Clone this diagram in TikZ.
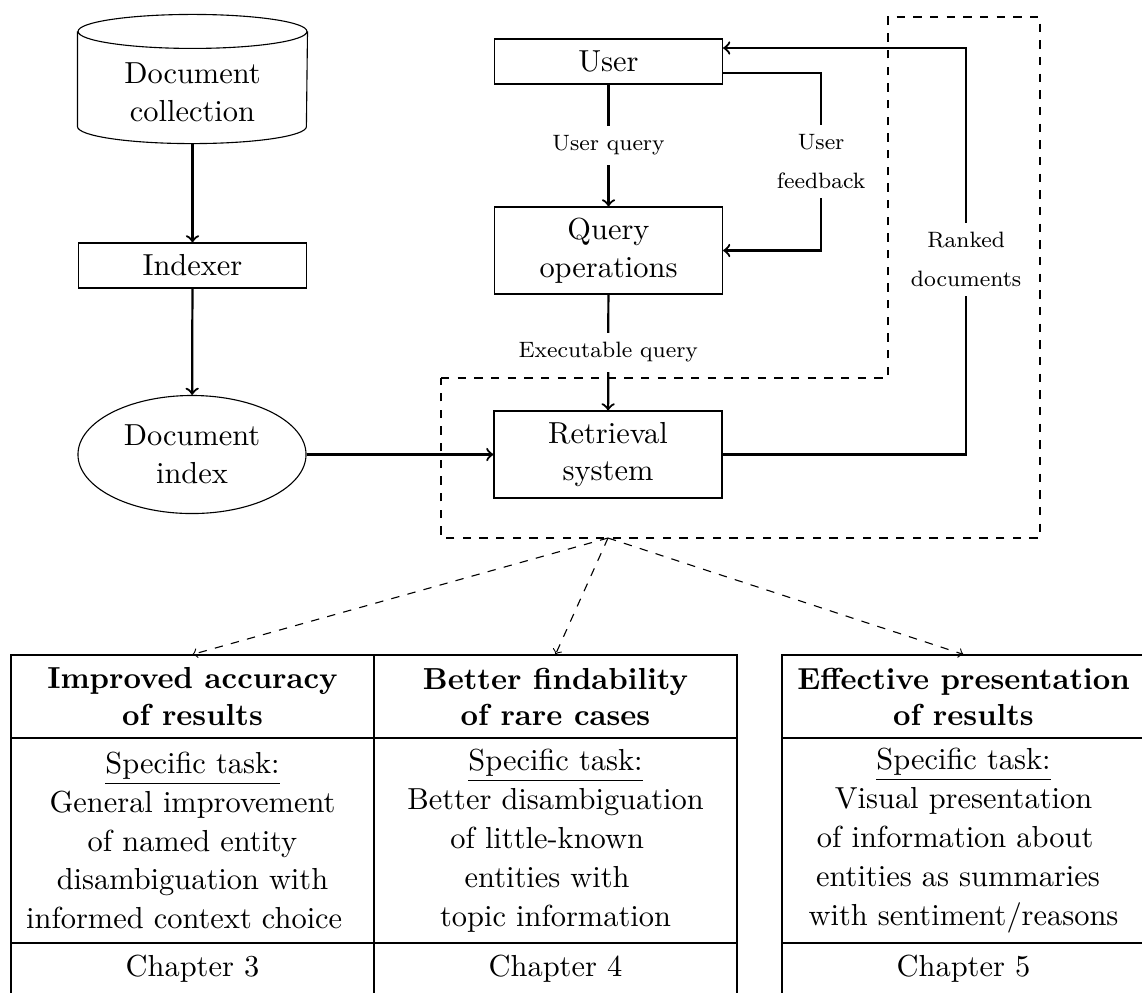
\documentclass[tikz,border=0pt]{standalone}
\usetikzlibrary{calc,shapes.geometric}
\begin{document}
\begin{tikzpicture}[x=0.36pt,y=-0.36pt,
  font=\fontsize{10.95}{13.6}\selectfont,
  box/.style={draw,thin,rectangle,inner sep=0pt,minimum width=82.1pt,align=center},
  onebox/.style={box,minimum height=16.2pt},
  twobox/.style={box,minimum height=31.3pt},
  conn/.style={thick,->},
  lbl/.style={fill=white,font=\fontsize{8}{14}\selectfont,align=center},
  region/.style={thin,dashed},
  pointer/.style={thin,dashed,->},
  cell/.style={draw,thin,rectangle,inner sep=0pt,minimum width=130.7pt,align=center},
  headcell/.style={cell,minimum height=29.9pt,font=\fontsize{10.95}{13}\selectfont\bfseries},
  bodycell/.style={cell,minimum height=73.8pt,font=\fontsize{10.95}{14}\selectfont},
  chapcell/.style={cell,minimum height=18.7pt}]
\useasboundingbox (0,0) rectangle (1142,992);

% document side
\node[inner sep=0pt,minimum width=82.4pt,minimum height=46.1pt] (coll) at (192.5,79) {};
\draw[thin] ($(coll.north west)+(0,17)$) -- ($(coll.south west)+(0,-17)$)
  arc[start angle=180,end angle=360,x radius=41.2pt,y radius=6.12pt]
  -- ($(coll.north east)+(0,17)$);
\draw[thin] ($(coll.north)+(0,17)$) ellipse [x radius=41.2pt,y radius=6.12pt];
\node[align=center] (colltext) at (192.5,92) {Document\\collection};

\node[onebox] (indexer) at (192.5,265.5) {Indexer};
\node[draw,thin,ellipse,inner sep=0pt,minimum width=82.1pt,minimum height=42.5pt,align=center] (dindex) at (192,454.5) {Document\\index};

% search side
\node[onebox] (user) at (608.5,61.5) {User};
\node[twobox] (qops) at (608.5,250.5) {Query\\operations};
\node[twobox] (ret) at (608,454.5) {Retrieval\\system};

\draw[conn] (coll) -- (indexer);
\draw[conn] (indexer) -- (dindex);
\draw[conn] (dindex) -- (ret);
\draw[conn] (user) -- node[lbl]{User query} (qops);
\draw[conn] (qops) -- node[lbl]{Executable query} (ret);
\draw[conn] ($(user.east)+(0,11.5)$) -| node[lbl,pos=0.75]{User\\feedback} ($(qops.east)+(98,0)$) -- (qops.east);
\draw[conn] (ret.east) -| node[lbl,pos=0.74]{Ranked\\documents} ($(user.east)+(243,-13.5)$) -- ($(user.east)+(0,-13.5)$);

% retrieval region
\draw[region] (441,378) -- (888,378) -- (888,17) -- (1040,17) -- (1040,538) -- (441,538) -- cycle;
\coordinate (focus) at (608,538);

% contribution tables
\node[headcell] (h1) at (192.5,696.5) {Improved accuracy\\of results};
\node[bodycell] (b1) at (192.5,840.5) {\underline{Specific task:}\\General improvement\\of named entity\\disambiguation with\\informed context choice\kern6pt};
\node[chapcell] (c1) at (192.5,969) {Chapter 3};

\node[headcell] (h2) at (555.5,696.5) {Better findability\\of rare cases};
\node[bodycell] (b2) at (555.5,840.5) {\underline{Specific task:}\\Better disambiguation\\of little-known\kern6pt\\entities with\kern6pt\\topic information};
\node[chapcell] (c2) at (555.5,969) {Chapter 4};

\node[headcell] (h3) at (963.5,696.5) {Effective presentation\\of results};
\node[bodycell] (b3) at (963.5,840.5) {\underline{Specific task:}\\Visual presentation\\of information about\kern6pt\\entities as summaries\kern4pt\\with sentiment/reasons};
\node[chapcell] (c3) at (963.5,969) {Chapter 5};

\draw[pointer] (focus) -- (h1.north);
\draw[pointer] (focus) -- (h2.north);
\draw[pointer] (focus) -- (h3.north);
\end{tikzpicture}
\end{document}
